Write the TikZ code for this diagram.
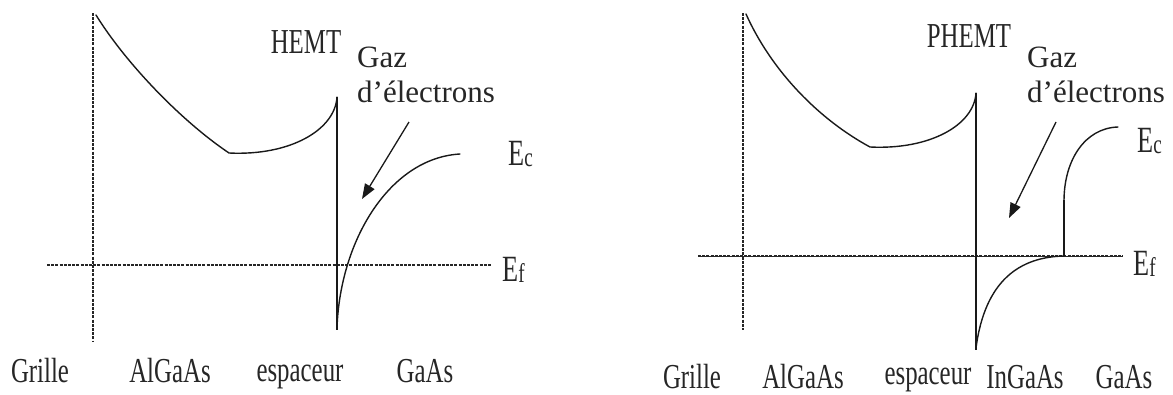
\documentclass[tikz,border=0pt]{standalone}
\usepackage{fontspec}
\setmainfont{Liberation Serif}
\newfontfamily\narrowserif[FakeStretch=0.71]{Liberation Serif}
\usetikzlibrary{arrows.meta}
\tikzset{
  band/.style={line width=1.4pt, black!90, line cap=round},
  wall/.style={line width=1.6pt, black!90},
  dashline/.style={line width=1.5pt, black!85, dash pattern=on 3pt off 1.2pt},
  pointer/.style={line width=1.3pt, black!90, -{Triangle[length=15pt,width=11pt]}},
  lbl/.style={inner sep=0pt, anchor=base, font=\narrowserif\fontsize{35}{40}\selectfont, text=black!85},
  gaz/.style={inner sep=0pt, anchor=base west, font=\fontsize{31}{36}\selectfont, text=black!85},
  elbl/.style={inner sep=0pt, anchor=base west, font=\narrowserif\fontsize{37}{40}\selectfont, text=black!85}
}
\newcommand{\sublet}[1]{{\fontsize{27}{30}\selectfont\raisebox{-1pt}{#1}}}
\begin{document}
\begin{tikzpicture}[x=1pt,y=-1pt]
\useasboundingbox (0,0) rectangle (1173,394);

% ================= LEFT: HEMT =================
\draw[dashline] (93,13) -- (93,342);
\draw[dashline] (47,265) -- (491,265);
\draw[band] (96,15) .. controls (125,62) and (180,120) .. (229,153)
            .. controls (290,156) and (335,130) .. (337,97);
\draw[wall] (337,97) -- (337,330);
\draw[band] (337,328) .. controls (340,240) and (390,158) .. (460,154);
\coordinate (a1s) at (409,122);
\coordinate (a1e) at (362,199);
\draw[pointer] (a1s) -- (a1e);

\node[lbl] (hemt) at (306,53) {HEMT};
\node[gaz] (gaz1) at (357,67) {Gaz};
\node[gaz] (el1) at (357,102) {d’électrons};
\node[elbl] (ec1) at (508,165) {E\sublet{c}};
\node[elbl] (ef1) at (502,281) {E\sublet{f}};

\node[lbl] (g1) at (40,382) {Grille};
\node[lbl] (al1) at (170,382) {AlGaAs};
\node[lbl] (sp1) at (300,381) {espaceur};
\node[lbl] (ga1) at (425,382) {GaAs};

% ================= RIGHT: PHEMT =================
\draw[dashline] (743,13) -- (743,330);
\draw[line width=0.7pt, black!85] (698,256) -- (1123,256);
\draw[dashline] (698,256) -- (1123,256);
\draw[band] (746,14) .. controls (772,72) and (820,120) .. (870,147)
            .. controls (930,150) and (974,125) .. (976,93);
\draw[wall] (976,93) -- (976,350);
\draw[band] (976,348) .. controls (985,280) and (1020,257) .. (1064,256);
\draw[wall] (1064,256) -- (1064,200);
\draw[band] (1064,201) .. controls (1064,160) and (1085,128) .. (1118,127);
\coordinate (a2s) at (1056,122);
\coordinate (a2e) at (1009,218);
\draw[pointer] (a2s) -- (a2e);

\node[lbl] (phemt) at (969,47) {PHEMT};
\node[gaz] (gaz2) at (1027,67) {Gaz};
\node[gaz] (el2) at (1027,102) {d’électrons};
\node[elbl] (ec2) at (1137,152) {E\sublet{c}};
\node[elbl] (ef2) at (1133,275) {E\sublet{f}};

\node[lbl] (g2) at (692,388) {Grille};
\node[lbl] (al2) at (803,388) {AlGaAs};
\node[lbl] (sp2) at (928,384) {espaceur};
\node[lbl] (in2) at (1025,388) {InGaAs};
\node[lbl] (ga2) at (1124,388) {GaAs};
\end{tikzpicture}
\end{document}
